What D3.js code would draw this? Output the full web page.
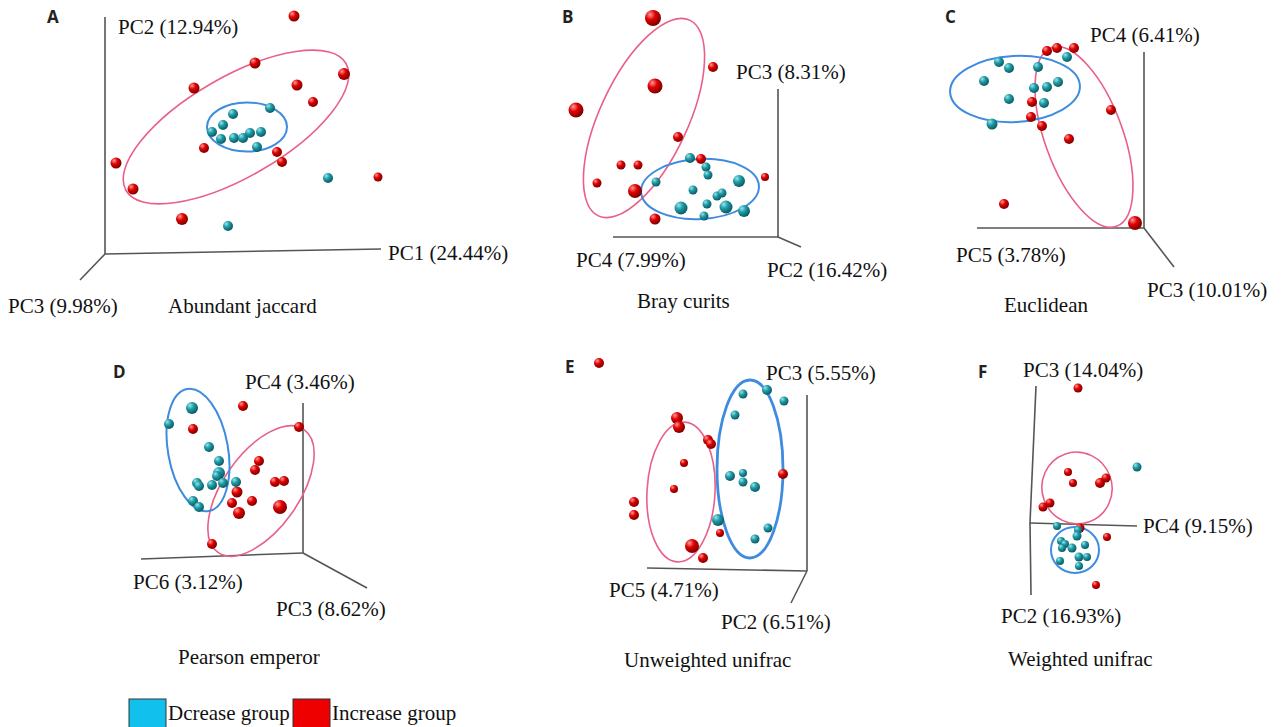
<!DOCTYPE html>
<html><head><meta charset="utf-8">
<script src="https://cdn.jsdelivr.net/npm/d3@7"></script>
<style>body{margin:0;background:#fff}svg{display:block}
.serif{font-family:"Liberation Serif","Tinos","Times New Roman","DejaVu Serif",serif;}
.letter{font-family:"Open Sans","Liberation Sans",sans-serif;font-weight:700;}
</style>
</head><body>
<svg id="chart" width="1281" height="727"></svg>
<script>
// ---- Data: projected ordination scores (panel-local units, origin at axis corner, y upward) ----
// [x, y, size]
const A_decrease = [[165,146,5],[128,140,5],[118,129,5],[107,122,5],[116,115,5],[129,116,5],[138,116,5],[145,121,5],[156,122,5],[152,107,5],[223,76,5],[123,28,5]];
const A_increase = [[189,238,5.5],[150,191,5.5],[239,180,6],[192,169,5.5],[208,152,5],[89,166,5.5],[99,106,5],[172,102,5],[177,92,5],[11,91,5.5],[28,65,5.5],[77,35,6],[273,77,4.5]];
const B_decrease = [[-88,79,5],[-72,70,4.5],[-70,62,4.5],[-122,55,4.5],[-39,56,6],[-85,47,4.5],[-61,41,4.5],[-56,44,4.5],[-71,33,4.5],[-97,29,6.5],[-52,30,6.5],[-34,26,6],[-74,21,4.5]];
const B_increase = [[-125,219,8],[-123,151,7.5],[-202,127,7.5],[-65,170,5],[-100,100,5],[-157,72,4.5],[-140,72,4.5],[-181,54,4.5],[-143,46,7],[-123,18,5.5],[-77,78,5],[-13,60,4]];
const C_decrease = [[-77,171,5],[-145,166,5],[-135,160,5],[-106,161,5],[-160,147,5],[-110,140,5],[-97,141,5],[-86,146,5],[-135,129,5],[-100,125,5],[-152,104,5.5]];
const C_increase = [[-97,177,5],[-87,180,5],[-70,180,5],[-112,126,5],[-113,111,5],[-102,102,5],[-33,118,5],[-75,89,5],[-140,24,5],[-9,5,7]];
const D_decrease = [[-111,145,6],[-134,129,5],[-94,106,5],[-84,92,5],[-84,80,6],[-86,77,5],[-106,70,5],[-104,67,5],[-91,68,5],[-80,70,5],[-67,71,5],[-110,52,5],[-104,46,5]];
const D_increase = [[-60,147,5],[-4,126,5],[-110,124,5],[-44,92,5],[-48,83,5],[-28,71,5],[-19,72,5],[-66,61,5.5],[-71,50,5],[-51,52,5],[-64,40,6],[-23,46,7],[-91,9,5]];
const E_decrease = [[-64,177,4.5],[-40,181,5],[-23,170,4.5],[-72,156,4.5],[-77,95,5],[-64,98,4],[-64,89,4.5],[-52,84,5],[-89,51,6],[-39,43,4.5],[-52,32,4.5]];
const E_increase = [[-208,208,5],[-130,153,6],[-128,144,6],[-99,131,5],[-96,127,5],[-123,108,4],[-133,82,4],[-173,69,5],[-173,56,5],[-115,25,7],[-104,13,5],[-87,38,4],[-24,97,5]];
const F_decrease = [[107,56,4.5],[27,-3,4],[48,-7,4],[47,-13,4.5],[31,-18,4],[35,-21,4],[32,-25,4],[42,-25,4.5],[55,-22,4],[49,-34,4.5],[57,-34,4],[30,-38,4],[49,-43,4]];
const F_increase = [[48,135,4.5],[38,51,4],[43,40,4],[70,40,5],[76,45,4.5],[20,20,4.5],[13,16,4.5],[50,-5,4.5],[77,-14,4],[66,-62,4]];
// confidence ellipses [cx, cy, semi-axis a, semi-axis b, angle deg]
const A_ellipses = {dec:[142,127,40,24.5,0], inc:[131,127,127,50,-30]};
const B_ellipses = {dec:[-78,48,59,30,-3], inc:[-134,119,108,44,-65]};
const C_ellipses = {dec:[-129,139,65,33,-3], inc:[-60,91,95,39,70]};
const D_ellipses = {dec:[-105,103,62,30,80], inc:[-42,62,75,38,-55]};
const E_ellipses = {dec:[-57,102,33,89,0], inc:[-126,79,34,70,3]};
const F_ellipses = {dec:[45,-27,24,23,0], inc:[47,35,35,36,-20]};
const panelLetters = ["A","B","C","D","E","F"];
const panelTitles = ["Abundant jaccard","Bray curits","Euclidean","Pearson emperor","Unweighted unifrac","Weighted unifrac"];
const axisLabels = [
  ["PC2 (12.94%)","PC1 (24.44%)","PC3 (9.98%)"],
  ["PC3 (8.31%)","PC4 (7.99%)","PC2 (16.42%)"],
  ["PC4 (6.41%)","PC5 (3.78%)","PC3 (10.01%)"],
  ["PC4 (3.46%)","PC6 (3.12%)","PC3 (8.62%)"],
  ["PC3 (5.55%)","PC5 (4.71%)","PC2 (6.51%)"],
  ["PC3 (14.04%)","PC4 (9.15%)","PC2 (16.93%)"]
];
const legendLabels = ["Dcrease group","Increase group"];

// ---- Layout ----
const layout = [
  {origin:[105,254], axes:[[0,237],[276,5],[-25,-26]],
   letter:[47,23], title:[168,313], labels:[[118,34],[388,260],[8,313]],
   dec:A_decrease, inc:A_increase, ell:A_ellipses},
  {origin:[778,237], axes:[[0,148],[-165,0],[23,-10]],
   letter:[562,23], title:[637,308], labels:[[736,79],[576,267],[767,277]],
   dec:B_decrease, inc:B_increase, ell:B_ellipses},
  {origin:[1144,228], axes:[[0,176],[-167,0],[30,-39]],
   letter:[945,23], title:[1004,312], labels:[[1090,42],[956,262],[1147,297]],
   dec:C_decrease, inc:C_increase, ell:C_ellipses},
  {origin:[303,553], axes:[[0,150],[-162,-6],[64,-35]],
   letter:[113,378], title:[178,664], labels:[[245,389],[133,589],[276,616]],
   dec:D_decrease, inc:D_increase, ell:D_ellipses},
  {origin:[807,571], axes:[[0,176],[-160,3],[-16,-32]],
   letter:[565,373], title:[624,667], labels:[[766,380],[609,597],[721,629]],
   dec:E_decrease, inc:E_increase, ell:E_ellipses, decWidth:2.8},
  {origin:[1030,523], axes:[[6,137],[107,-3],[1,-72]],
   letter:[978,378], title:[1008,666], labels:[[1023,377],[1143,533],[1001,623]],
   dec:F_decrease, inc:F_increase, ell:F_ellipses}
];

const svg = d3.select("#chart");
const defs = svg.append("defs");
function grad(id, c0, c1, c2){
  const g = defs.append("radialGradient").attr("id",id).attr("cx","35%").attr("cy","32%").attr("r","70%").attr("fx","32%").attr("fy","28%");
  g.append("stop").attr("offset","0%").attr("stop-color",c0);
  g.append("stop").attr("offset","45%").attr("stop-color",c1);
  g.append("stop").attr("offset","100%").attr("stop-color",c2);
}
grad("gRed","#ff9a9a","#e00000","#7a0000");
grad("gTeal","#9ee4ea","#1d9ca8","#0b5860");

layout.forEach((p,i)=>{
  const [ox,oy] = p.origin;
  const x = d3.scaleLinear().domain([0,100]).range([ox, ox+100]);
  const y = d3.scaleLinear().domain([0,100]).range([oy, oy-100]);
  const g = svg.append("g");
  p.axes.forEach(e=>{
    g.append("line").attr("x1",x(0)).attr("y1",y(0))
     .attr("x2",x(e[0])).attr("y2",y(e[1]))
     .attr("stroke","#555").attr("stroke-width",1.6);
  });
  const drawEll = (e,col,w)=>{
    const [cx,cy,a,b,ang] = e;
    g.append("ellipse").attr("cx",0).attr("cy",0)
     .attr("rx",x(a)-x(0)).attr("ry",y(0)-y(b))
     .attr("transform",`translate(${x(cx)},${y(cy)}) rotate(${ang})`)
     .attr("fill","none").attr("stroke",col).attr("stroke-width",w);
  };
  drawEll(p.ell.inc,"#e8608a",1.6);
  drawEll(p.ell.dec,"#3f8be0",p.decWidth||2);
  g.selectAll(".inc").data(p.inc).join("circle").attr("class","inc")
   .attr("cx",d=>x(d[0])).attr("cy",d=>y(d[1])).attr("r",d=>d[2])
   .attr("fill","url(#gRed)");
  g.selectAll(".dec").data(p.dec).join("circle").attr("class","dec")
   .attr("cx",d=>x(d[0])).attr("cy",d=>y(d[1])).attr("r",d=>d[2])
   .attr("fill","url(#gTeal)");
  axisLabels[i].forEach((t,k)=>{
    svg.append("text").attr("class","serif").attr("x",p.labels[k][0]).attr("y",p.labels[k][1])
      .attr("font-size",21).attr("fill","#111").text(t);
  });
  svg.append("text").attr("class","serif").attr("x",p.title[0]).attr("y",p.title[1])
     .attr("font-size",21).attr("fill","#111").text(panelTitles[i]);
  svg.append("text").attr("class","letter").attr("x",p.letter[0]).attr("y",p.letter[1])
     .attr("font-size",17).attr("fill","#222").text(panelLetters[i]);
});

const legCols = ["#12c0ee","#ee0000"];
const legX = [129,293];
legendLabels.forEach((t,k)=>{
  svg.append("rect").attr("x",legX[k]).attr("y",699).attr("width",37).attr("height",30)
     .attr("fill",legCols[k]).attr("stroke","#333").attr("stroke-width",1);
  svg.append("text").attr("class","serif").attr("x",legX[k]+39).attr("y",720)
     .attr("font-size",21).attr("fill","#111").text(t);
});
</script>
</body></html>
